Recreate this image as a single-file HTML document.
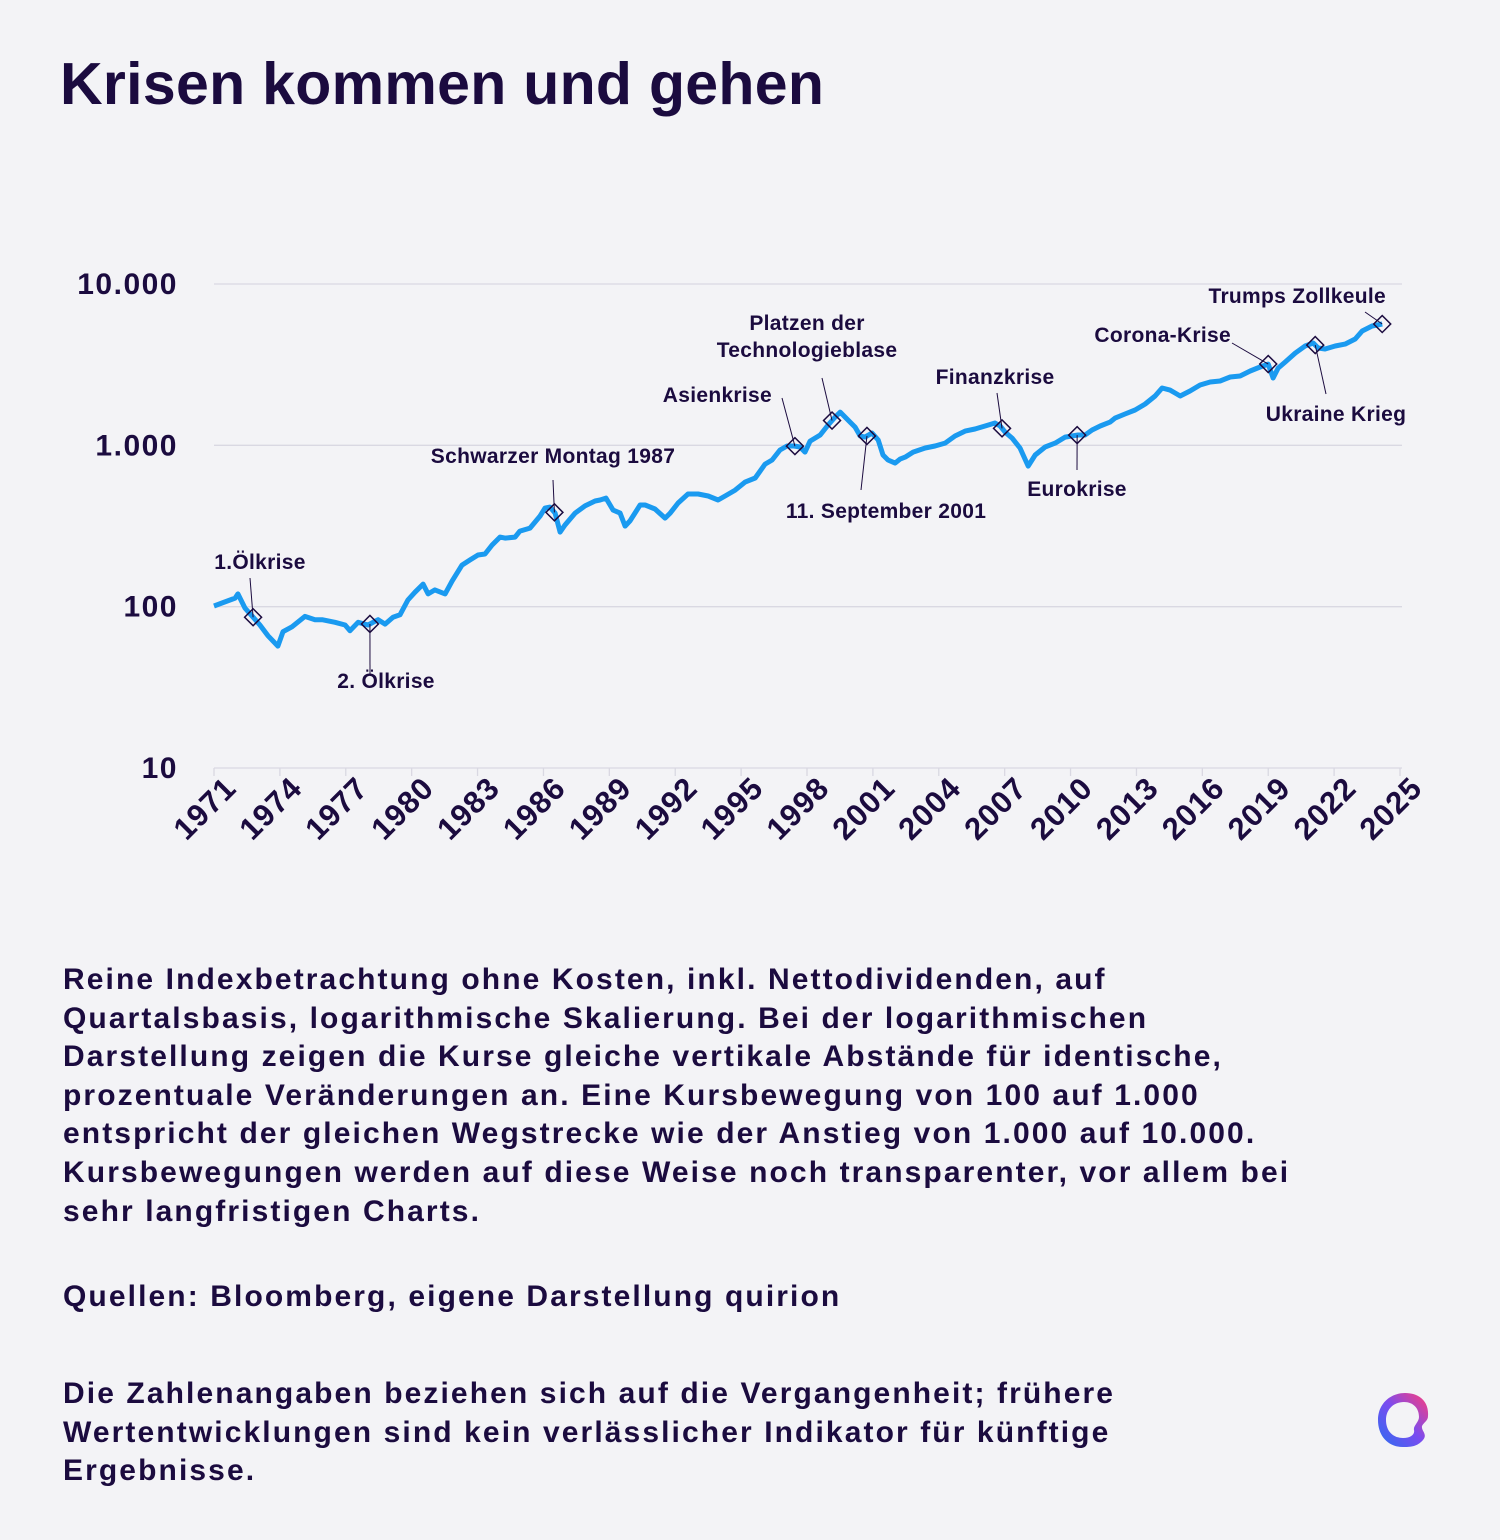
<!DOCTYPE html>
<html><head><meta charset="utf-8">
<style>
html,body{margin:0;padding:0;background:#f3f3f6;}
body{width:1500px;height:1540px;position:relative;overflow:hidden;font-family:"Liberation Sans",sans-serif;color:#1b0b3f;}
h1{position:absolute;left:60px;top:50px;margin:0;font-size:59px;font-weight:bold;letter-spacing:0.3px;}
.txt{position:absolute;left:63px;margin:0;font-size:30px;line-height:38.6px;letter-spacing:2.1px;font-weight:bold;white-space:nowrap;}
svg{position:absolute;left:0;top:0;}
</style></head><body>
<h1>Krisen kommen und gehen</h1>
<svg id="chart" width="1500" height="900"></svg>
<p class="txt" style="top:961px">Reine Indexbetrachtung ohne Kosten, inkl. Nettodividenden, auf<br>Quartalsbasis, logarithmische Skalierung. Bei der logarithmischen<br>Darstellung zeigen die Kurse gleiche vertikale Abstände für identische,<br>prozentuale Veränderungen an. Eine Kursbewegung von 100 auf 1.000<br>entspricht der gleichen Wegstrecke wie der Anstieg von 1.000 auf 10.000.<br>Kursbewegungen werden auf diese Weise noch transparenter, vor allem bei<br>sehr langfristigen Charts.</p>
<p class="txt" style="top:1278px">Quellen: Bloomberg, eigene Darstellung quirion</p>
<p class="txt" style="top:1375px">Die Zahlenangaben beziehen sich auf die Vergangenheit; frühere<br>Wertentwicklungen sind kein verlässlicher Indikator für künftige<br>Ergebnisse.</p>
<svg width="60" height="60" style="left:1375px;top:1390px">
<defs><linearGradient id="lg" x1="0" y1="1" x2="1" y2="0"><stop offset="0" stop-color="#2a6ef0"/><stop offset="0.5" stop-color="#7a4cf0"/><stop offset="1" stop-color="#ff3d7a"/></linearGradient></defs>
<path d="M30 3 C45 3 54 12 53 26 C53 31 49 32 47 36 C46 41 53 44 48 50 C42 57 35 57 28 57 C13 57 3 46 3 30 C3 14 15 3 30 3 Z M29 12 C18 12 11 20 11 30 C11 41 18 48 28 48 C36 48 40 44 39 40 C38 36 44 32 44 27 C44 18 38 12 29 12 Z" fill="url(#lg)" fill-rule="evenodd"/>
</svg>
<script>
const years=[1971.00,1971.50,1971.96,1972.09,1972.41,1972.78,1973.09,1973.46,1973.91,1974.14,1974.55,1975.14,1975.60,1975.92,1976.51,1976.97,1977.19,1977.56,1978.01,1978.47,1978.79,1979.15,1979.47,1979.83,1980.15,1980.52,1980.75,1981.06,1981.52,1981.84,1982.29,1982.66,1983.02,1983.34,1983.66,1984.02,1984.25,1984.71,1984.93,1985.39,1985.85,1986.07,1986.30,1986.53,1986.76,1986.98,1987.44,1987.89,1988.35,1988.58,1988.85,1989.17,1989.49,1989.72,1989.94,1990.40,1990.63,1991.08,1991.54,1991.77,1992.13,1992.58,1993.04,1993.50,1993.95,1994.27,1994.73,1995.18,1995.64,1996.09,1996.41,1996.77,1997.09,1997.41,1997.68,1997.91,1998.14,1998.60,1998.96,1999.28,1999.51,1999.87,2000.19,2000.42,2000.64,2000.96,2001.24,2001.46,2001.69,2002.01,2002.24,2002.47,2002.83,2003.38,2003.83,2004.29,2004.74,2005.20,2005.65,2006.11,2006.56,2006.79,2007.02,2007.34,2007.70,2008.07,2008.39,2008.84,2009.30,2009.75,2010.34,2010.66,2010.98,2011.35,2011.80,2012.03,2012.48,2012.94,2013.40,2013.85,2014.17,2014.53,2014.76,2014.99,2015.44,2015.90,2016.36,2016.81,2017.27,2017.72,2018.18,2018.63,2019.00,2019.22,2019.45,2019.77,2020.23,2020.68,2021.05,2021.27,2021.59,2022.05,2022.50,2022.96,2023.28,2023.73,2024.19];
const values=[101,107,113,120,98,86,77,66,57,70,75,87,83,83,80,77,71,80,77,83,78,86,89,110,123,138,120,127,120,144,181,195,209,212,241,270,266,270,294,307,365,408,414,380,290,321,380,421,452,458,471,397,380,316,340,427,427,403,354,380,439,499,499,485,458,485,528,592,627,765,811,935,991,991,976,908,1063,1159,1337,1497,1608,1434,1298,1142,1125,1191,1079,871,811,776,822,845,908,962,991,1033,1142,1226,1262,1318,1375,1318,1208,1109,962,744,871,976,1033,1125,1159,1159,1245,1318,1393,1476,1563,1655,1803,2021,2266,2201,2110,2021,2171,2365,2468,2504,2650,2690,2889,3057,3190,2613,3013,3282,3731,4129,4307,4010,3952,4129,4244,4560,5112,5491,5649];
const yTicks=[10,100,1000,10000];
const yTickLabels=["10","100","1.000","10.000"];
const xTicks=[1971,1974,1977,1980,1983,1986,1989,1992,1995,1998,2001,2004,2007,2010,2013,2016,2019,2022,2025];
const eventYears=[1972.78,1978.10,1986.50,1997.45,1999.14,2000.73,2006.88,2010.30,2019.00,2021.14,2024.19];
const eventLabels=["1.Ölkrise","2. Ölkrise","Schwarzer Montag 1987","Asienkrise","Platzen der|Technologieblase","11. September 2001","Finanzkrise","Eurokrise","Corona-Krise","Ukraine Krieg","Trumps Zollkeule"];
const NS="http://www.w3.org/2000/svg";
const svg=document.getElementById('chart');
const X0=214,X1=1400,Y10=768,Y10k=284;
function xs(y){return X0+(y-1971)/(2025-1971)*(X1-X0);}
function ys(v){return Y10+(Math.log10(v)-1)/3*(Y10k-Y10);}
function mk(tag,attrs,parent){const e=document.createElementNS(NS,tag);for(const k in attrs)e.setAttribute(k,attrs[k]);(parent||svg).appendChild(e);return e;}
function interp(yr){for(let i=1;i<years.length;i++){if(yr<=years[i]){const t=(yr-years[i-1])/(years[i]-years[i-1]);return Math.pow(10,Math.log10(values[i-1])+t*(Math.log10(values[i])-Math.log10(values[i-1])));}}return values[values.length-1];}
const font='"Liberation Sans",sans-serif';
yTicks.forEach((v,i)=>{
  if(v>10){const g=mk('line',{x1:214,x2:1402,y1:ys(v),y2:ys(v),stroke:'#d9d8e2','stroke-width':1.3});
  
  }
  const t=mk('text',{x:178,y:ys(v)+10,'text-anchor':'end','font-family':font,'font-size':30,'font-weight':'bold','letter-spacing':'1.5',fill:'#1b0b3f'});
  t.textContent=yTickLabels[i];
  
  
});
const ax=mk('line',{x1:214,x2:1402,y1:768,y2:768,stroke:'#d9d8e2','stroke-width':1.3});


xTicks.forEach(yr=>{
  const x=xs(yr);
  mk('line',{x1:x,x2:x,y1:768,y2:776,stroke:'#d9d8e2','stroke-width':1.3});
  const t=mk('text',{x:0,y:0,'text-anchor':'end','font-family':font,'font-size':31,'font-weight':'bold','letter-spacing':'1',fill:'#1b0b3f',transform:`translate(${x+24},${790}) rotate(-45)`});
  t.textContent=yr;
  
  
});
let d='';years.forEach((yr,i)=>{d+=(i?'L':'M')+xs(yr).toFixed(1)+' '+ys(values[i]).toFixed(1);});
const p=mk('path',{d:d,fill:'none',stroke:'#1a9af0','stroke-width':5,'stroke-linejoin':'round'});


const lab=[[260,569,'middle',250,578],[386,688,'middle',370,674],[553,463,'middle',553,480],[772,402,'end',782,398],[807,357,'middle',822,378],[886,518,'middle',861,490],[995,384,'middle',997,393],[1077,496,'middle',1077,470],[1231,342,'end',1232,343],[1336,421,'middle',1326,394],[1386,303,'end',1365,312]];
eventYears.forEach((yr,i)=>{
  const x=xs(yr),y=ys(interp(yr));const L=lab[i];
  const ln=mk('line',{x1:L[3],y1:L[4],x2:x,y2:y,stroke:'#1b0b3f','stroke-width':1});
  
  
  const dm=mk('rect',{x:x-6,y:y-6,width:12,height:12,fill:'none',stroke:'#1b0b3f','stroke-width':1.5,transform:`rotate(45 ${x} ${y})`});
  
  
  const parts=eventLabels[i].split('|');
  parts.forEach((s,j)=>{
    const t=mk('text',{x:L[0],y:L[1]+j*27-(parts.length-1)*27,'text-anchor':L[2],'font-family':font,'font-size':21,'font-weight':'bold','letter-spacing':'0.3',fill:'#1b0b3f'});
    t.textContent=s;
    
    
  });
});
</script>
</body></html>
